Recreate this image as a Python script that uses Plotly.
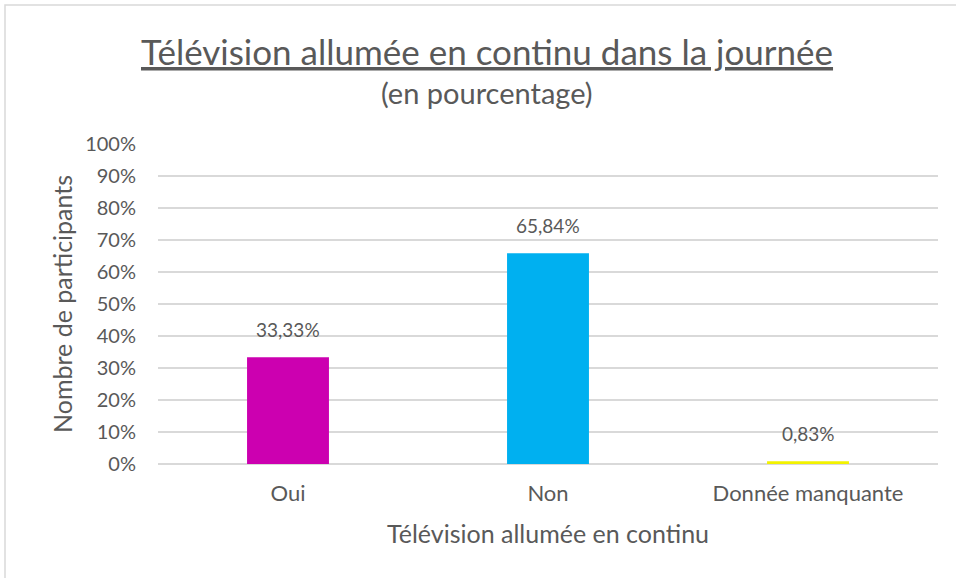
import plotly.graph_objects as go

categories = ["Oui", "Non", "Donnée manquante"]
values = [33.33, 65.84, 0.83]
bar_colors = ["#CC00B0", "#00B0F0", "#F2F200"]
y_ticks = list(range(0, 101, 10))
y_tick_labels = [f"{v}%" for v in y_ticks]

TXT = "#595959"
FONT = "Lato"

fig = go.Figure()
fig.add_trace(go.Bar(
    x=categories, y=values,
    marker=dict(color=bar_colors, line=dict(width=0)),
    hoverinfo="skip",
))

label_annotations = [
    dict(x=c, y=v, xref="x", yref="y", text=f"{v:.2f}%".replace(".", ","),
         showarrow=False, yanchor="bottom", yshift=14,
         font=dict(family=FONT, size=19, color=TXT))
    for c, v in zip(categories, values)
]

fig.update_layout(
    width=956, height=578,
    margin=dict(l=158, r=18, t=144, b=114),
    paper_bgcolor="white", plot_bgcolor="white",
    bargap=0.685,
    showlegend=False,
    font=dict(family=FONT, color=TXT),
    annotations=[
        dict(text="<u>Télévision allumée en continu dans la journée</u>",
             xref="paper", yref="paper", x=(487-158)/780, y=(464-51)/320,
             xanchor="center", yanchor="middle", showarrow=False,
             font=dict(family=FONT, size=35, color=TXT)),
        dict(text="(en pourcentage)",
             xref="paper", yref="paper", x=(487-158)/780, y=(464-93)/320,
             xanchor="center", yanchor="middle", showarrow=False,
             font=dict(family=FONT, size=29, color=TXT)),
        dict(text="Télévision allumée en continu",
             xref="paper", yref="paper", x=(548-158)/780, y=(464-533)/320,
             xanchor="center", yanchor="middle", showarrow=False,
             font=dict(family=FONT, size=25, color=TXT)),
        dict(text="Nombre de participants", textangle=-90,
             xref="paper", yref="paper", x=(62-158)/780, y=(464-304)/320,
             xanchor="center", yanchor="middle", showarrow=False,
             font=dict(family=FONT, size=25, color=TXT)),
    ] + label_annotations,
    shapes=[
        dict(type="rect", xref="paper", yref="paper",
             x0=(5-158)/780, x1=1.2, y0=-0.6, y1=(464-5)/320,
             line=dict(color="#D9D9D9", width=1.5), layer="below"),
    ],
)

fig.update_xaxes(
    showline=False, showgrid=False, ticks="",
    tickfont=dict(family=FONT, size=22, color=TXT),
    ticklabelstandoff=14,
)
fig.update_yaxes(
    range=[0, 100], tickmode="array", tickvals=y_ticks, ticktext=y_tick_labels,
    showgrid=True, gridcolor="#D9D9D9", gridwidth=1.5,
    zeroline=True, zerolinecolor="#D9D9D9", zerolinewidth=1.5,
    showline=False, ticks="", ticklen=0,
    tickfont=dict(family=FONT, size=20, color=TXT),
    ticklabelstandoff=21,
)

fig.write_html("out.html", config={"displayModeBar": False},
               post_script="document.body.style.margin='0';document.body.style.padding='0';")
